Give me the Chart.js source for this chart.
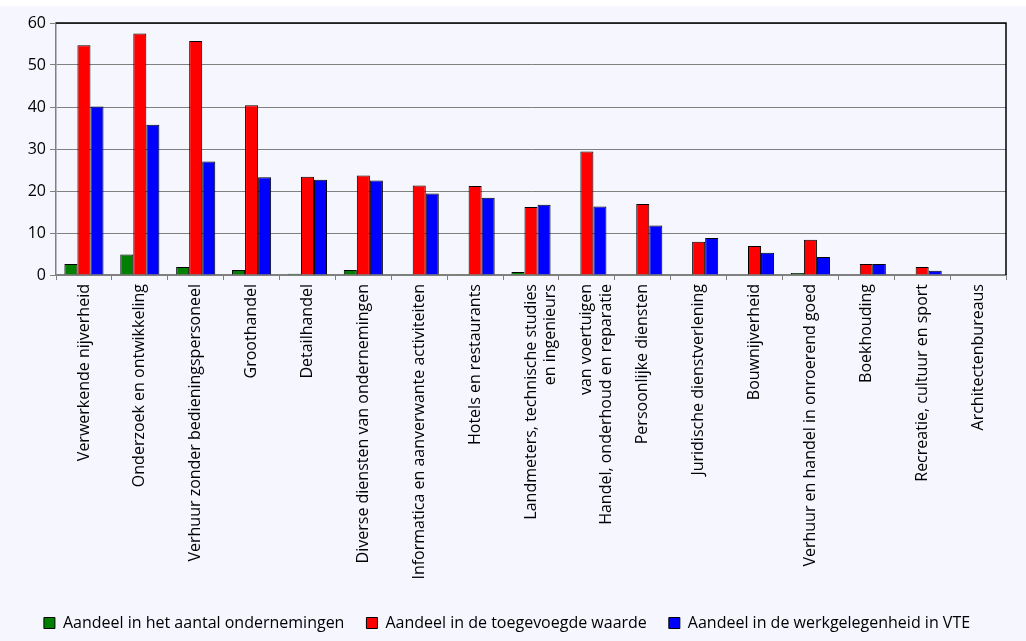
<!DOCTYPE html>
<html>
<head>
<meta charset="utf-8">
<script src="https://cdn.jsdelivr.net/npm/chart.js@4.4.0/dist/chart.umd.min.js"></script>
<style>
  html, body { margin: 0; padding: 0; background: #ffffff; overflow: hidden; }
  #wrap { position: absolute; left: 0; top: 6px; width: 1026px; height: 635px; background: #f5f6fe; }
</style>
</head>
<body>
<div id="wrap"><canvas id="myChart"></canvas></div>
<script>
const categories = [
  "Verwerkende nijverheid",
  "Onderzoek en ontwikkeling",
  "Verhuur zonder bedieningspersoneel",
  "Groothandel",
  "Detailhandel",
  "Diverse diensten van ondernemingen",
  "Informatica en aanverwante activiteiten",
  "Hotels en restaurants",
  ["Landmeters, technische studies", "en ingenieurs"],
  ["van voertuigen", "Handel, onderhoud en reparatie"],
  "Persoonlijke diensten",
  "Juridische dienstverlening",
  "Bouwnijverheid",
  "Verhuur en handel in onroerend goed",
  "Boekhouding",
  "Recreatie, cultuur en sport",
  "Architectenbureaus"
];

const aandeelOndernemingen = [2.6, 4.9, 1.9, 1.2, 0.3, 1.2, 0.2, 0.2, 0.7, 0.2, 0.0, 0.1, 0.1, 0.5, 0.1, 0.0, 0.0];
const aandeelWaarde = [54.7, 57.5, 55.7, 40.4, 23.4, 23.7, 21.3, 21.2, 16.2, 29.4, 16.9, 7.9, 6.9, 8.4, 2.6, 1.9, 0.0];
const aandeelWerkgelegenheid = [40.1, 35.8, 27.0, 23.3, 22.7, 22.5, 19.4, 18.4, 16.7, 16.3, 11.8, 8.8, 5.3, 4.3, 2.6, 1.0, 0.0];

const seriesNames = [
  "Aandeel in het aantal ondernemingen",
  "Aandeel in de toegevoegde waarde",
  "Aandeel in de werkgelegenheid in VTE"
];

const yTicks = [0, 10, 20, 30, 40, 50, 60];

var frameBorder = {
  id: "frameBorder",
  afterDraw(chart) {
    const a = chart.chartArea;
    const ctx = chart.ctx;
    ctx.save();
    ctx.strokeStyle = "#000000";
    ctx.lineWidth = 1.5;
    ctx.beginPath();
    ctx.moveTo(a.left, a.top);
    ctx.lineTo(a.right, a.top);
    ctx.lineTo(a.right, a.bottom);
    ctx.stroke();
    ctx.restore();
  }
};

var ctx = document.getElementById("myChart").getContext("2d");
var myChart = new Chart(ctx, {
  type: "bar",
  data: {
    labels: categories,
    datasets: [
      { label: seriesNames[0], data: aandeelOndernemingen, backgroundColor: "#008000", borderColor: "#000000", borderWidth: 1 },
      { label: seriesNames[1], data: aandeelWaarde, backgroundColor: "#ff0000", borderColor: "#000000", borderWidth: 1 },
      { label: seriesNames[2], data: aandeelWerkgelegenheid, backgroundColor: "#0000ff", borderColor: "#000000", borderWidth: 1 }
    ]
  },
  options: {
    responsive: true,
    maintainAspectRatio: false,
    animation: false,
    categoryPercentage: 0.7,
    barPercentage: 1.0,
    layout: { padding: { left: 8, right: 20, top: 17, bottom: 0 } },
    plugins: {
      tooltip: { enabled: false },
      legend: {
        position: "bottom",
        labels: {
          color: "#000000",
          font: { family: "Open Sans", size: 16 },
          boxWidth: 11,
          boxHeight: 11,
          padding: 22
        }
      }
    },
    scales: {
      x: {
        grid: { display: true, drawOnChartArea: false, drawTicks: true, tickLength: 5, color: "#808080" },
        border: { color: "#808080", width: 1.5 },
        ticks: {
          color: "#000000",
          font: { family: "Open Sans", size: 16 },
          minRotation: 90,
          maxRotation: 90,
          autoSkip: false,
          padding: 4
        },
        afterFit(scale) { scale.height = 318; }
      },
      y: {
        min: 0,
        max: 60,
        afterBuildTicks(scale) { scale.ticks = yTicks.map(v => ({ value: v })); },
        grid: { color: "#808080", lineWidth: 1, tickLength: 6 },
        border: { color: "#808080", width: 1.5 },
        ticks: {
          color: "#000000",
          font: { family: "Open Sans", size: 16 },
          padding: 4
        },
        afterFit(scale) { scale.width = 48; }
      }
    }
  },
  plugins: [frameBorder]
});
</script>
</body>
</html>
